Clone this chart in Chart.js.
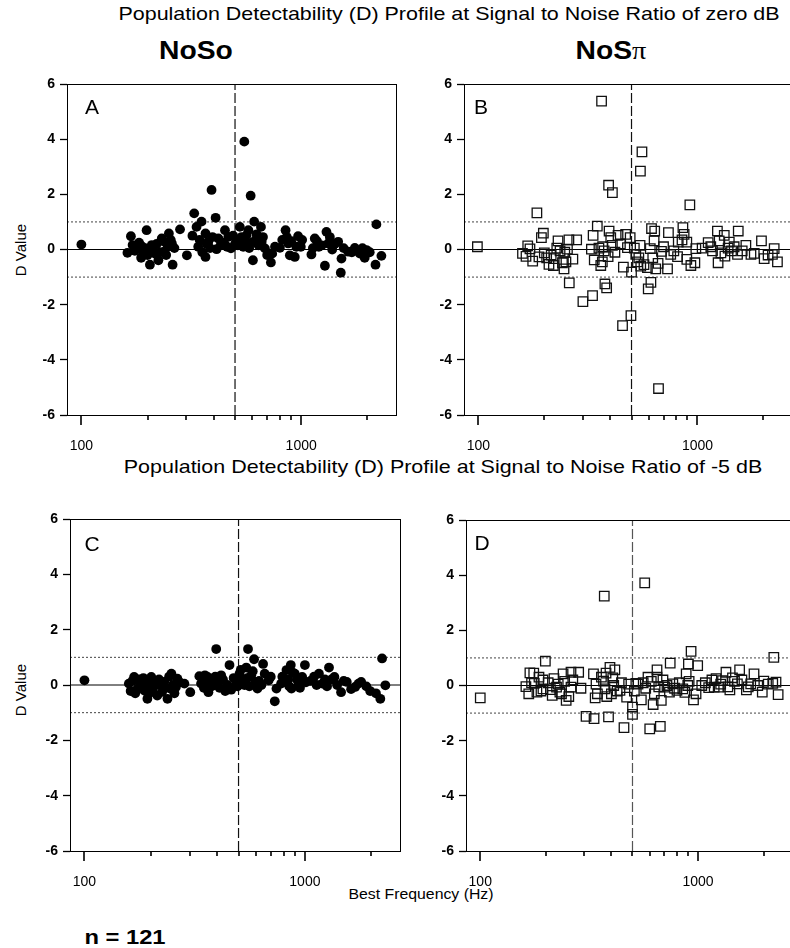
<!DOCTYPE html>
<html>
<head>
<meta charset="utf-8">
<script src="https://cdn.jsdelivr.net/npm/chart.js@4/dist/chart.umd.min.js"></script>
<style>
body{margin:0;width:790px;height:948px;overflow:hidden;background:#fff;position:relative;font-family:"Liberation Sans",Arial,sans-serif;color:#000}
.box{position:absolute}
.txt{position:absolute;white-space:nowrap;line-height:1;transform:translate(-50%,-50%) scaleX(1.13)}
.vert{position:absolute;white-space:nowrap;line-height:1;font-size:15px;transform:translate(-50%,-50%) rotate(-90deg)}
.pl{position:absolute;font-size:21px;line-height:1;transform:translate(-50%,-50%)}
.pi{font-family:"Liberation Serif","DejaVu Serif",serif;font-weight:normal}
</style>
</head>
<body>
<div class="txt" style="left:449px;top:13px;font-size:19px">Population Detectability (D) Profile at Signal to Noise Ratio of zero dB</div>
<div class="txt" style="left:196px;top:50px;font-size:25px;font-weight:bold">NoSo</div>
<div class="txt" style="left:611px;top:50px;font-size:25px;font-weight:bold">NoS<span class="pi">π</span></div>
<div class="txt" style="left:443px;top:466px;font-size:19px">Population Detectability (D) Profile at Signal to Noise Ratio of -5 dB</div>
<div class="txt" style="left:421px;top:894px;font-size:14px">Best Frequency (Hz)</div>
<div class="txt" style="left:125px;top:936px;font-size:21px;font-weight:bold">n = 121</div>
<div class="vert" style="left:20px;top:250px">D Value</div>
<div class="vert" style="left:20px;top:690px">D Value</div>

<div class="box" style="left:0;top:70px"><canvas id="cA" width="420" height="390"></canvas></div>
<div class="box" style="left:420px;top:70px"><canvas id="cB" width="380" height="390"></canvas></div>
<div class="box" style="left:0;top:505px"><canvas id="cC" width="420" height="390"></canvas></div>
<div class="box" style="left:420px;top:505px"><canvas id="cD" width="380" height="390"></canvas></div>

<div class="pl" style="left:92px;top:106px">A</div>
<div class="pl" style="left:481px;top:106px">B</div>
<div class="pl" style="left:92px;top:543px">C</div>
<div class="pl" style="left:482px;top:542px">D</div>

<script>
// axis settings
var X_MIN = 86, X_MAX = 2700
var MAJOR_TICKS = [100, 1000]
var MINOR_TICKS = [200, 300, 400, 500, 600, 700, 800, 900, 2000]
var Y_TICKS_STEP = 2
var DIVIDE_FREQ = 500

// panel A : NoSo, 0 dB
var freqA = [100,168,162,171,180,188,191,198,187,205,209,216,224,232,238,247,250,258,260,281,302,326,334,340,352,367,367,378,391,408,412,420,450,466,479,508,526,545,564,589,603,611,627,656,661,684,728,738,800,849,873,888,935,968,996,1113,1153,1203,1282,1303,1327,1384,1473,1525,1514,1636,1754,1849,1945,1982,2178,2198,2317,551,
  175,183,195,200,212,220,228,236,243,255,265,345,355,372,385,395,430,445,460,490,500,515,535,555,575,595,620,640,670,700,760,820,860,900,950,1010,1130,1180,1240,1350,1420,1560,1700,1900,2050,320,580]
var dA = [0.18,0.48,-0.12,0.16,0.04,0.12,-0.15,0.70,-0.30,-0.55,0.16,-0.15,-0.39,0.40,-0.08,0.10,0.58,0.22,-0.55,0.73,-0.21,1.31,0.82,0.10,1.01,0.58,-0.27,0.28,2.16,1.15,0.01,0.40,0.70,0.46,0.04,0.34,0.82,0.10,0.52,1.95,-0.39,1.01,0.55,0.82,0.28,0.04,-0.47,-0.15,0.06,0.70,0.22,-0.21,-0.27,0.48,0.10,-0.18,0.40,0.10,-0.59,0.64,0.22,0.00,0.28,-0.33,-0.84,-0.08,0.06,-0.15,-0.30,-0.02,-0.55,0.91,-0.23,3.91,
  -0.05,0.25,0.05,-0.2,0.0,0.2,-0.1,0.3,-0.2,0.35,0.05,0.35,-0.1,0.2,0.05,0.45,0.15,0.25,0.1,0.5,0.2,0.15,0.45,0.3,0.7,0.25,0.35,0.15,0.45,-0.2,0.1,0.35,0.45,0.3,0.1,0.35,0.05,0.3,0.15,0.45,0.2,0.05,-0.1,0.05,-0.1,0.5,0.05]

// panel B : NoSpi, 0 dB
var freqB = [99,365,558,549,393,409,923,185,260,300,332,378,385,455,497,596,613,664,
  159,168,177,189,194,198,200,210,222,220,231,236,242,251,246,255,259,281,328,334,338,349,362,369,368,391,395,402,409,434,459,479,493,500,523,532,547,551,591,609,617,634,638,645,661,685,730,737,755,811,817,858,869,894,894,933,973,983,1119,1171,1233,1256,1279,1325,1334,1397,1430,1470,1523,1535,1663,1754,1816,1959,2015,2198,2239,2317,1242,
  165,172,205,215,228,248,270,355,375,420,445,470,515,540,570,625,700,780,850,1050,1150,1380,1600,2100]
var dB = [0.10,5.38,3.54,2.84,2.33,2.06,1.62,1.33,-1.21,-1.89,-1.67,-1.25,-1.39,-2.76,-2.40,-1.43,-1.19,-5.04,
  -0.14,0.13,-0.42,-0.27,0.43,0.59,-0.12,-0.54,-0.33,-0.58,0.31,-0.05,-0.48,-0.45,-0.70,0.01,0.35,0.35,0.01,0.51,-0.38,0.85,-0.58,0.10,-0.45,-0.26,0.67,0.43,0.15,0.51,-0.64,0.07,0.43,-0.82,-0.18,-0.45,0.15,-0.60,-0.66,0.03,0.76,0.31,0.67,-0.70,-0.50,-0.07,-0.70,0.61,-0.18,-0.26,0.27,0.79,0.55,0.27,-0.36,-0.58,-0.48,0.03,0.25,-0.05,0.67,0.31,-0.12,0.51,-0.24,0.27,-0.05,0.10,-0.18,0.67,0.15,-0.18,-0.14,0.31,-0.33,-0.18,0.03,-0.45,-0.48,
  -0.25,0.02,-0.3,-0.2,0.05,-0.1,-0.35,0.05,-0.05,-0.1,0.2,0.55,0.05,-0.3,-0.55,-0.3,0.1,-0.05,0.35,0.05,0.1,0.05,-0.05,-0.2]

// panel C : NoSo, -5 dB
var freqC = [100,396,552,588,646,455,2239,2317,2198,1977,1800,1690,1549,1459,1361,1286,1233,1158,1130,1000,972,933,900,863,869,825,811,743,730,685,657,609,596,571,542,523,505,488,463,435,417,405,386,365,362,344,332,302,284,264,260,248,245,238,230,222,214,206,201,193,187,179,174,168,162,159,
  165,170,176,182,185,190,196,198,204,210,218,225,234,242,252,256,270,338,348,352,370,378,392,410,425,445,475,495,512,532,548,560,580,620,635,700,780,790,840,850,880,920,950,1010,1060,1100,1200,1260,1320,1400,1500,1620,1750,1900,2100]
var dC = [0.17,1.30,1.30,0.93,0.76,0.72,0.96,-0.01,-0.50,-0.22,0.11,-0.07,0.11,-0.26,0.29,0.63,0.20,0.41,0.00,0.72,0.29,0.00,0.41,0.72,-0.13,0.54,0.11,-0.13,-0.59,0.17,0.41,-0.13,0.11,0.35,0.63,0.17,0.41,0.07,-0.17,-0.22,0.35,0.15,0.11,-0.26,0.29,0.23,0.32,-0.26,0.05,0.23,-0.07,0.41,-0.13,-0.50,0.11,-0.01,-0.38,-0.07,0.29,-0.50,-0.20,0.07,-0.13,0.29,-0.22,0.05,
  0.15,-0.3,0.2,-0.05,0.25,0.0,-0.3,0.15,-0.25,0.1,0.2,-0.25,-0.1,0.3,0.0,-0.3,0.1,0.05,-0.1,0.35,0.1,-0.05,0.3,-0.1,0.2,0.0,0.25,-0.05,0.55,0.0,0.25,-0.05,0.5,0.15,0.0,0.3,0.05,0.3,0.2,-0.05,0.45,0.2,-0.1,0.1,0.15,0.3,0.05,-0.05,0.2,0.0,0.15,-0.15,0.05,-0.05,-0.3]

// panel D : NoSpi, -5 dB
var freqD = [100,929,2228,2332,2203,2005,1972,1807,1745,1667,1552,1516,1439,1400,1343,1295,1250,1186,1158,1119,996,979,953,903,897,882,851,800,766,745,739,702,678,671,648,648,622,600,589,549,518,500,500,470,457,438,415,406,394,388,381,374,368,337,333,331,306,283,261,261,248,240,232,224,214,199,194,194,182,177,176,169,162,167,371,569,
  172,186,190,205,210,218,228,236,244,255,266,290,340,345,360,378,400,410,425,445,480,510,530,560,575,610,630,660,690,720,780,820,870,910,1040,1080,1210,1270,1370,1470,1590,1700,1880,2100,2280]
var dD = [-0.45,1.24,1.02,-0.33,0.08,0.16,-0.24,0.42,0.06,-0.16,0.57,0.06,0.28,-0.16,0.48,0.18,-0.06,-0.06,0.20,-0.08,0.72,-0.30,-0.52,0.78,0.00,0.42,-0.12,-0.18,0.06,0.81,-0.24,-0.06,-0.54,-1.48,0.57,0.30,-0.69,-1.57,0.30,-0.52,0.08,-0.78,-1.05,-0.42,-1.53,-0.18,0.57,0.28,0.66,-1.14,-0.40,-0.12,0.16,-0.45,-1.20,0.42,-1.12,0.48,0.48,-0.06,-0.54,0.42,-0.24,-0.06,-0.36,0.88,0.20,-0.12,-0.24,0.08,0.45,0.46,-0.04,-0.30,3.24,3.72,
  0.1,0.3,-0.2,0.1,-0.15,0.25,0.05,-0.3,0.15,-0.4,0.2,-0.1,0.05,-0.3,0.3,0.45,-0.3,0.0,-0.2,0.1,0.05,-0.2,0.05,0.1,-0.1,0.15,-0.3,-0.05,0.2,0.0,-0.1,0.1,-0.25,0.15,0.0,0.1,0.25,0.05,-0.05,0.15,0.2,-0.05,0.0,0.05,0.12]

// box round the plot area + the x tick marks (long at decades, short between)
var frame = {
    id: 'frame',
    afterDraw: function(chart){
        var a = chart.chartArea, ctx = chart.ctx, xs = chart.scales.x
        ctx.save()
        ctx.strokeStyle = '#000'
        ctx.lineWidth = 1
        ctx.strokeRect(a.left + 0.5, a.top + 0.5, a.right - a.left, a.bottom - a.top)
        ctx.lineWidth = 1.6
        ctx.beginPath()
        MAJOR_TICKS.concat(MINOR_TICKS).forEach(function(v){
            var px = Math.round(xs.getPixelForValue(v))
            var len = MAJOR_TICKS.indexOf(v) >= 0 ? 10 : 5
            ctx.moveTo(px, a.bottom)
            ctx.lineTo(px, a.bottom + len)
        })
        ctx.stroke()
        ctx.restore()
    }
}

function makePanel(id, freqs, dvals, filled, yWidth, pad, xHeight, dashColor){
    var pts = freqs.map(function(f, i){ return {x: f, y: dvals[i]} })
    var marks = filled ?
        {pointStyle: 'circle', pointRadius: 4.9, backgroundColor: '#000', borderColor: '#000', borderWidth: 0} :
        {pointStyle: 'rect', pointRadius: 6.7, backgroundColor: 'rgba(0,0,0,0)', borderColor: '#111', borderWidth: 1.3}
    var tickFont = {family: '"Liberation Sans", Arial, sans-serif', size: 14}

    new Chart(document.getElementById(id), {
        type: 'scatter',
        data: {
            datasets: [
                Object.assign({data: pts, pointHoverRadius: 0}, marks),
                {data: [{x: X_MIN, y: 0}, {x: X_MAX, y: 0}], showLine: true, pointRadius: 0, borderColor: '#000', borderWidth: 1},
                {data: [{x: X_MIN, y: 1}, {x: X_MAX, y: 1}], showLine: true, pointRadius: 0, borderColor: '#444', borderWidth: 1, borderDash: [2, 2]},
                {data: [{x: X_MIN, y: -1}, {x: X_MAX, y: -1}], showLine: true, pointRadius: 0, borderColor: '#444', borderWidth: 1, borderDash: [2, 2]},
                {data: [{x: DIVIDE_FREQ, y: -6}, {x: DIVIDE_FREQ, y: 6}], showLine: true, pointRadius: 0, borderColor: dashColor, borderWidth: 1.2, borderDash: [10, 3]}
            ]
        },
        options: {
            responsive: false,
            animation: false,
            layout: {padding: {top: pad.top, right: pad.right, bottom: 0, left: 0}},
            plugins: {legend: {display: false}, tooltip: {enabled: false}},
            scales: {
                x: {
                    type: 'logarithmic', position: 'bottom', min: X_MIN, max: X_MAX,
                    afterBuildTicks: function(s){ s.ticks = MAJOR_TICKS.map(function(v){ return {value: v} }) },
                    ticks: {callback: function(v){ return String(v) }, font: tickFont, color: '#000', padding: 14, maxRotation: 0, autoSkip: false},
                    grid: {drawOnChartArea: false, tickLength: 9, color: 'rgba(0,0,0,0)', tickColor: 'rgba(0,0,0,0)'},
                    border: {display: true, color: '#000', width: 1},
                    afterFit: function(s){ s.height = xHeight }
                },
                y: {
                    min: -6, max: 6,
                    ticks: {stepSize: Y_TICKS_STEP, font: Object.assign({weight: 'bold'}, tickFont), color: '#000', padding: 5},
                    grid: {drawOnChartArea: false, tickLength: 7, color: '#000', tickColor: '#000', tickWidth: 1.3},
                    border: {display: true, color: '#000', width: 1},
                    afterFit: function(s){ s.width = yWidth }
                }
            }
        },
        plugins: [frame]
    })
}

makePanel('cA', freqA, dA, true, 67, {top: 14, right: 24}, 45, '#111')
makePanel('cB', freqB, dB, false, 44, {top: 14, right: 7}, 45, '#111')
makePanel('cC', freqC, dC, true, 70, {top: 14, right: 20}, 44, '#111')
makePanel('cD', freqD, dD, false, 46, {top: 15, right: 5}, 44, '#555')
</script>
</body>
</html>
